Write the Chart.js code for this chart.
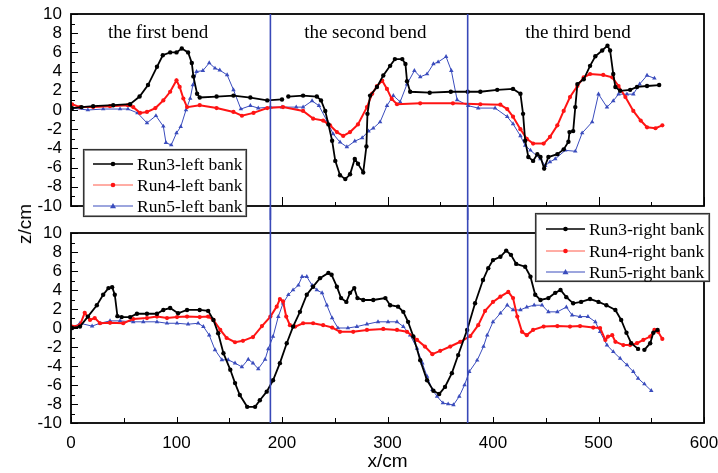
<!DOCTYPE html>
<html>
<head>
<meta charset="utf-8">
<script src="https://cdn.jsdelivr.net/npm/chart.js@4.4.0/dist/chart.umd.min.js"></script>
<style>
html, body { margin: 0; padding: 0; background: #fff; }
#wrap { position: relative; width: 718px; height: 473px; overflow: hidden; }
#bot { position: absolute; left: 0; top: 208px; }
#top { position: absolute; left: 0; top: 0; }
#ytitle { position: absolute; left: 25px; top: 224px; transform: translate(-50%, -50%) rotate(-90deg);
  font: 19px "Liberation Sans", Arial, sans-serif; color: #000; white-space: nowrap; }
</style>
</head>
<body>
<div id="wrap">
  <canvas id="bot" width="718" height="265"></canvas>
  <canvas id="top" width="718" height="220"></canvas>
  <div id="ytitle">z/cm</div>
</div>
<script>
// [x (cm), z (cm)]
var run3Left = [[1,0.2],[10,0.3],[21,0.4],[40,0.5],[56,0.6],[65,1.4],[73,2.6],[81.5,4.5],[87,5.7],[94,6.0],[100,6.0],[105,6.4],[111,6.0],[114.5,4.9],[116,3.5],[119.5,1.7],[122,1.3],[138,1.4],[154,1.5],[170,1.3],[186,1.0],[200,1.1],[203,null],[206,1.4],[220,1.5],[233,1.4],[237,1.0],[241,-0.1],[244,-1.5],[247.5,-3.2],[250.5,-5.3],[255,-6.8],[260,-7.2],[264.5,-6.7],[269,-5.1],[272,-5.6],[277,-6.5],[280,-3.8],[281,-0.4],[283.5,1.5],[290,2.4],[296,3.6],[302.5,4.6],[307,5.3],[314,5.3],[317,4.8],[318.5,3.0],[321.5,1.9],[340,1.8],[360,1.9],[376,1.9],[388,1.9],[404,2.1],[419,2.2],[426,1.7],[428.5,-0.4],[430.5,-3.2],[433.5,-4.9],[438,-5.3],[442,-4.6],[445,-4.9],[448.5,-6.1],[452.5,-4.9],[461,-4.6],[467,-4.1],[471.5,-3.3],[472.5,-2.3],[476,-2.2],[478,0.3],[480,2.7],[486,3.2],[492,4.6],[497,5.6],[503.5,6.2],[508.5,6.7],[511,6.2],[514,3.75],[516,2.4],[520.5,2.0],[530,2.1],[536.5,2.4],[546,2.5],[557.5,2.6]];
var run4Left = [[1,0.6],[8.5,0.3],[21,0.3],[37,0.4],[54,0.5],[59,0.3],[65.5,-0.3],[72,-0.2],[80,0.2],[87.5,1.0],[94,1.9],[100,3.1],[103,2.4],[106.5,1.2],[110,0.3],[122,0.5],[138,0.2],[154,-0.2],[162,-0.6],[173,-0.3],[186,0.2],[201,0.3],[220,-0.1],[229.5,-0.9],[239,-1.1],[245.5,-1.6],[252,-2.3],[258,-2.7],[264.5,-2.3],[272,-1.5],[280.5,0.3],[285.5,1.7],[290,2.5],[295,3.05],[299.5,2.2],[304,1.15],[309,0.6],[331,0.7],[362,0.7],[388,0.6],[407,0.55],[413.5,0.1],[419,-0.7],[426,-2.0],[432,-3.0],[438,-3.5],[448,-3.5],[454,-2.8],[461,-1.6],[467,-0.1],[473,1.35],[480,2.5],[486,3.4],[492,3.75],[504.5,3.65],[513,3.4],[519,2.5],[525.5,1.35],[533,-0.1],[540,-1.1],[546,-1.8],[554,-1.9],[560.5,-1.6]];
var run5Left = [[1,0.2],[16,0.0],[30.5,0.1],[46.5,0.1],[54,0.1],[63,-0.3],[72,-1.35],[80.5,-0.6],[87.5,-1.7],[90,-3.4],[95,-3.65],[100,-2.4],[104,-1.75],[109,0.0],[113,1.2],[115.5,2.6],[119,4.0],[125,4.1],[131,4.9],[136.5,4.35],[141,4.15],[148,3.65],[154,2.1],[161,0.1],[170,0.45],[177.5,0.2],[189,0.3],[200,0.3],[213.5,0.3],[220,0.3],[228.5,0.95],[235,0.45],[242.5,-1.1],[248.5,-2.5],[255,-3.35],[261.5,-3.85],[269,-3.25],[276,-2.9],[282,-2.2],[286.5,-1.9],[293,-1.25],[299.5,0.45],[305.5,1.5],[312,0.85],[318.5,2.7],[325.5,4.1],[331,3.45],[337.5,3.75],[343.5,4.8],[348,5.0],[355.5,5.55],[360.5,4.1],[366,1.05],[376.5,0.45],[386,0.2],[402,0.2],[413.5,-0.7],[419,-1.45],[426,-2.7],[430.5,-3.7],[435.5,-4.2],[445,-5.1],[449.5,-5.8],[454,-5.4],[459,-5.1],[468.5,-4.2],[478,-4.3],[484.5,-2.4],[494,-1.25],[500,1.65],[508,0.3],[514,0.95],[519,1.65],[527,1.65],[533,1.65],[539,2.7],[546,3.6],[553,3.3]];

var run3Right = [[1,0],[8.5,0.15],[16,1.2],[24.5,2.4],[30.5,3.5],[35.5,4.2],[39,4.3],[41.5,3.5],[44,1.25],[48,1.15],[56,1.15],[62.5,1.5],[72,1.5],[81.5,1.5],[87.5,1.9],[94,2.1],[101.5,1.55],[110,1.9],[122,1.9],[130,1.8],[135,0.85],[139.5,-0.55],[144.5,-2.65],[151,-4.4],[155.5,-5.8],[160,-7.05],[167,-8.3],[174.5,-8.3],[179,-7.6],[185.5,-6.7],[191.5,-5.5],[198,-3.7],[204.5,-1.6],[210.5,0.15],[217,1.7],[223.5,3.5],[229.5,4.35],[236,5.25],[244,5.8],[247,5.6],[252,4.35],[256,3.15],[261,2.75],[264.5,3.7],[268.5,4.2],[271.5,3.15],[277,2.95],[286.5,2.95],[298,3.15],[302.5,2.4],[310,2.25],[315,1.7],[319.5,0.65],[324.5,-0.9],[331,-3.4],[337.5,-5.5],[343.5,-6.6],[349,-6.95],[354.5,-6.2],[361,-4.75],[367,-2.85],[375.5,-0.2],[383,2.6],[390.5,5.05],[395.5,6.3],[400,7.15],[407,7.5],[412.5,8.15],[417,7.7],[422,6.75],[430.5,6.45],[435.5,5.4],[440,3.5],[445,2.95],[452.5,3.15],[459,3.7],[464,4.0],[469.5,3.25],[476,2.6],[483.5,2.75],[492,3.05],[500,2.75],[507.5,2.4],[516,1.9],[521.5,0.85],[526.5,-0.5],[531,-1.6],[537.5,-2.2],[540.5,null],[543.5,-2.3],[549,-1.6],[552,-0.5],[556,-0.2]];
var run4Right = [[1,0.15],[8.5,0.3],[13,1.6],[18,0.85],[22.5,1.05],[27.5,0.5],[37,0.55],[49.5,0.5],[59,0.95],[72,1.05],[81.5,1.2],[91,1.05],[100.5,1.15],[110,1.2],[122,1.15],[130,1.2],[135,0.85],[141.5,-0.2],[147.5,-1.05],[155.5,-1.5],[163,-1.35],[172.5,-0.95],[181,0.2],[189,1.2],[195,2.25],[198,3.05],[201,2.8],[204,1.2],[207.5,0.3],[212.5,0.15],[220,0.5],[229.5,0.5],[239,0.3],[247.5,0.05],[255,-0.4],[267.5,-0.4],[280.5,-0.2],[296,-0.1],[309,-0.2],[318.5,-0.4],[328,-1.25],[335.5,-1.95],[342.5,-2.75],[350,-2.4],[359.5,-1.95],[369,-1.45],[378.5,-0.85],[386,0.3],[392.5,1.8],[400,2.75],[407,3.3],[414.5,3.8],[419,3.15],[423,1.2],[427.5,-0.4],[432,-0.75],[438,-0.2],[448,0.15],[461,0.2],[473,0.15],[482.5,0.2],[495,0.05],[501.5,0],[506.5,-1.25],[509,-0.9],[513,-0.75],[516,-1.45],[523.5,-1.8],[530,-1.8],[536.5,-1.6],[542.5,-1.25],[549,-0.9],[553,-0.2],[556.5,-0.4],[560.5,-1.15]];
var run5Right = [[1,0],[8.5,0.5],[20,0.2],[27.5,0.5],[37,0.75],[46.5,0.75],[59,0.65],[68.5,0.65],[81.5,0.65],[91,0.5],[100.5,0.5],[111,0.4],[120.5,0.5],[125.5,0.15],[131,-0.75],[136.5,-2.3],[143,-3.35],[149,-3.35],[155.5,-3.7],[162,-4.1],[168,-3.3],[172.5,-3.7],[177.5,-4.3],[184,-3.3],[187,-2.2],[191.5,-0.9],[196.5,1.2],[201,2.6],[206,3.5],[210.5,4.0],[215.5,4.5],[219,5.4],[223.5,5.4],[228.5,4.5],[233,4.0],[238,3.7],[242.5,2.4],[247.5,1.05],[253,0],[262.5,0],[271,0.15],[280.5,0.4],[291,0.65],[300.5,0.65],[309,0.65],[315,0.15],[321.5,-0.75],[328,-2.15],[333,-3.7],[337.5,-5.1],[342.5,-6.5],[347,-7.2],[352.5,-7.9],[357.5,-8.0],[362.5,-8.1],[368,-7.2],[373,-6.0],[377.5,-4.6],[385,-3.4],[391,-1.95],[394.5,-0.75],[400,0.65],[407,1.55],[413.5,2.4],[419,1.9],[426,1.9],[432,2.2],[439,2.4],[446.5,2.4],[452.5,1.7],[461,1.7],[469.5,2.2],[475,1.35],[482.5,1.2],[490,1.2],[497,0.65],[501.5,-0.4],[508,-1.8],[514,-2.5],[520.5,-3.2],[527,-3.9],[533,-4.6],[537.5,-5.3],[543.5,-5.9],[550,-6.6]];

var leftLabels = ['Run3-left bank', 'Run4-left bank', 'Run5-left bank'];
var rightLabels = ['Run3-right bank', 'Run4-right bank', 'Run5-right bank'];
var bendNames = ['the first bend', 'the second bend', 'the third bend'];
var bendLines = [189, 376];
var xTicks = [0, 100, 200, 300, 400, 500, 600];
var yTicks = [-10, -8, -6, -4, -2, 0, 2, 4, 6, 8, 10];

var BLACK = '#000000', RED = '#ff1414', BLUE = '#3a4cbd', BEND = '#3848b8';
var tickFont = { family: '"Liberation Sans", Arial, sans-serif', size: 17 };
var serif = '"Liberation Serif", "Times New Roman", serif';

function pts(arr) {
    return arr.map(function (p) { return { x: p[0], y: p[1] }; });
}

function makeSets(a, b, c, labels) {
    return [
        { label: labels[0], data: pts(a), borderColor: BLACK, backgroundColor: BLACK, borderWidth: 1.8,
          pointRadius: 2.2, pointBorderWidth: 0, pointStyle: 'circle' },
        { label: labels[1], data: pts(b), borderColor: RED, backgroundColor: RED, borderWidth: 2,
          pointRadius: 2.1, pointBorderWidth: 0, pointStyle: 'circle' },
        { label: labels[2], data: pts(c), borderColor: BLUE, backgroundColor: BLUE, borderWidth: 1,
          pointRadius: 2.6, pointBorderWidth: 0, pointStyle: 'triangle' }
    ];
}

function marker(ctx, style, color, x, y) {
    ctx.fillStyle = color;
    ctx.beginPath();
    if (style === 'triangle') {
        ctx.moveTo(x, y - 3); ctx.lineTo(x + 3, y + 2.2); ctx.lineTo(x - 3, y + 2.2); ctx.closePath();
    } else {
        ctx.arc(x, y, 2.3, 0, Math.PI * 2);
    }
    ctx.fill();
}

function drawLegend(ctx, lg, labels) {
    var colors = [BLACK, RED, BLUE];
    var styles = ['circle', 'circle', 'triangle'];
    var widths = [1.5, 1, 1];
    ctx.fillStyle = '#fff';
    ctx.fillRect(lg.x, lg.y, lg.w, lg.h);
    ctx.strokeStyle = '#9a9a9a';
    ctx.lineWidth = 1;
    ctx.strokeRect(lg.x + 1.5, lg.y + 1.5, lg.w - 3, lg.h - 3);
    ctx.strokeStyle = '#333';
    ctx.lineWidth = 1.2;
    ctx.strokeRect(lg.x + 0.5, lg.y + 0.5, lg.w - 1, lg.h - 1);
    ctx.font = '17.5px ' + serif;
    ctx.textBaseline = 'middle';
    ctx.textAlign = 'left';
    for (var i = 0; i < 3; i++) {
        var ry = lg.rows[i];
        ctx.strokeStyle = i === 1 ? '#ff5a4a' : colors[i];
        ctx.lineWidth = widths[i];
        ctx.beginPath(); ctx.moveTo(lg.l1, ry); ctx.lineTo(lg.l2, ry); ctx.stroke();
        marker(ctx, styles[i], colors[i], (lg.l1 + lg.l2) / 2, ry);
        ctx.fillStyle = '#000';
        ctx.fillText(labels[i], lg.tx, ry + 1);
    }
}

var panelPlugin = {
    id: 'panel',
    afterDraw: function (chart, args, opts) {
        var ctx = chart.ctx, a = chart.chartArea, xs = chart.scales.x, ys = chart.scales.y;
        ctx.save();
        ctx.strokeStyle = '#000';
        ctx.lineWidth = 1;
        ctx.beginPath();
        for (var v = -10; v <= 10; v++) {
            var py = Math.round(ys.getPixelForValue(v)) + 0.5;
            ctx.moveTo(a.left, py); ctx.lineTo(a.left + (v % 2 === 0 ? 7 : 4), py);
        }
        for (var u = 0; u <= 600; u += 50) {
            var px = Math.round(xs.getPixelForValue(u)) + 0.5;
            ctx.moveTo(px, a.bottom); ctx.lineTo(px, a.bottom - (u % 100 === 0 ? opts.major : opts.minor));
        }
        ctx.stroke();
        ctx.lineWidth = 1.8;
        ctx.strokeRect(a.left, a.top, a.right - a.left, a.bottom - a.top);

        ctx.strokeStyle = BEND;
        ctx.lineWidth = 1.6;
        bendLines.forEach(function (b) {
            var bx = xs.getPixelForValue(b);
            ctx.beginPath();
            ctx.moveTo(bx, opts.top ? a.top : 0);
            ctx.lineTo(bx, opts.top ? chart.height : a.bottom);
            ctx.stroke();
        });

        if (opts.top) {
            ctx.fillStyle = '#000';
            ctx.font = '19px ' + serif;
            ctx.textAlign = 'center';
            ctx.textBaseline = 'alphabetic';
            var centers = [82.5, 279, 480.5];
            bendNames.forEach(function (t, i) {
                ctx.fillText(t, xs.getPixelForValue(centers[i]), 38);
            });
        }
        drawLegend(ctx, opts.legend, opts.labels);
        ctx.restore();
    }
};

function yScale() {
    return {
        type: 'linear', min: -10, max: 10,
        afterBuildTicks: function (s) { s.ticks = yTicks.map(function (v) { return { value: v }; }); },
        ticks: { font: tickFont, color: '#000', padding: 9, autoSkip: false },
        grid: { display: false, drawTicks: false },
        border: { display: false },
        afterFit: function (s) { s.width = 71; s.paddingTop = 0; s.paddingBottom = 0; }
    };
}

new Chart(document.getElementById('top'), {
    type: 'line',
    data: { datasets: makeSets(run3Left, run4Left, run5Left, leftLabels) },
    options: {
        responsive: false, animation: false,
        layout: { padding: { left: 0, right: 14, top: 14, bottom: 14 } },
        scales: {
            x: { type: 'linear', min: 0, max: 600, display: false },
            y: yScale()
        },
        elements: { line: { tension: 0 } },
        plugins: {
            legend: { display: false }, tooltip: { enabled: false },
            panel: { top: true, major: 9, minor: 4, labels: leftLabels,
                     legend: { x: 83, y: 149, w: 164, h: 68, rows: [164, 185, 206], l1: 93, l2: 133, tx: 137 } }
        }
    },
    plugins: [panelPlugin]
});

new Chart(document.getElementById('bot'), {
    type: 'line',
    data: { datasets: makeSets(run3Right, run4Right, run5Right, rightLabels) },
    options: {
        responsive: false, animation: false,
        layout: { padding: { left: 0, right: 14, top: 25, bottom: 0 } },
        scales: {
            x: {
                type: 'linear', min: 0, max: 600,
                afterBuildTicks: function (s) { s.ticks = xTicks.map(function (v) { return { value: v }; }); },
                ticks: { font: tickFont, color: '#000', padding: 10, maxRotation: 0, autoSkip: false },
                grid: { display: false, drawTicks: false },
                border: { display: false },
                title: { display: true, text: 'x/cm', color: '#000',
                         font: { family: '"Liberation Sans", Arial, sans-serif', size: 19 },
                         padding: { top: 0, bottom: 0 } },
                afterFit: function (s) { s.height = 50; s.paddingLeft = 0; s.paddingRight = 0; }
            },
            y: yScale()
        },
        elements: { line: { tension: 0 } },
        plugins: {
            legend: { display: false }, tooltip: { enabled: false },
            panel: { top: false, major: 6, minor: 5, labels: rightLabels,
                     legend: { x: 535, y: 5, w: 175, h: 69, rows: [21, 43, 64], l1: 546, l2: 585, tx: 589 } }
        }
    },
    plugins: [panelPlugin]
});
</script>
</body>
</html>
